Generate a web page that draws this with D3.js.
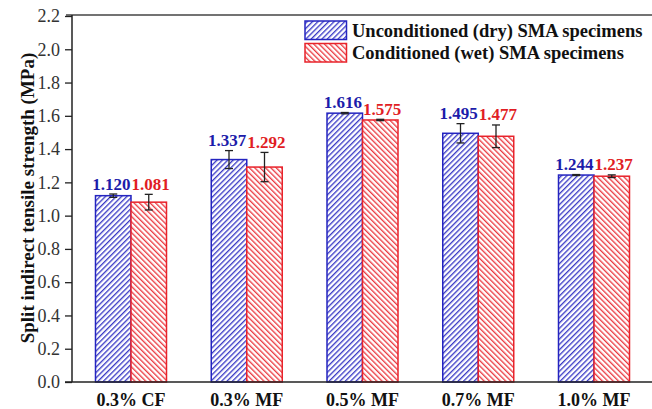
<!DOCTYPE html>
<html><head><meta charset="utf-8">
<script src="https://cdn.jsdelivr.net/npm/d3@7"></script>
<style>body{margin:0;background:#fff;} svg{display:block;}</style>
</head><body>
<svg id="c" width="652" height="409"></svg>
<script>
const categories = ["0.3% CF","0.3% MF","0.5% MF","0.7% MF","1.0% MF"];
const seriesNames = ["Unconditioned (dry) SMA specimens","Conditioned (wet) SMA specimens"];
const dryValues = [1.120,1.337,1.616,1.495,1.244];
const wetValues = [1.081,1.292,1.575,1.477,1.237];
const dryErrors = [0.010,0.054,0.004,0.058,0.003];
const wetErrors = [0.047,0.088,0.004,0.068,0.008];
const yTicks = [0.0,0.2,0.4,0.6,0.8,1.0,1.2,1.4,1.6,1.8,2.0,2.2];

const svg = d3.select("#c");
const mLeft=72, mTop=16, mBottom=382, mRight=652;
const blue="#2424c0", red="#e8232b";
const blueTxt="#1c1caa", redTxt="#e11d24";
const serif="'Liberation Serif','Times New Roman',serif";

const defs=svg.append("defs");
function pat(id,color,angle){
  const s=3.8;
  const p=defs.append("pattern").attr("id",id).attr("patternUnits","userSpaceOnUse")
    .attr("width",s).attr("height",s).attr("patternTransform",`rotate(${angle})`);
  p.append("rect").attr("width",s).attr("height",s).attr("fill","#fff");
  p.append("line").attr("x1",0.7).attr("y1",0).attr("x2",0.7).attr("y2",s)
    .attr("stroke",color).attr("stroke-width",1.2);
}
pat("pb",blue,45);
pat("pr",red,-45);

const y=d3.scaleLinear().domain([0,2.2]).range([mBottom,mTop]);
const x=d3.scalePoint().domain(categories).range([131,594]);
const bw=35.5;

svg.append("line").attr("x1",mLeft-6).attr("x2",mRight).attr("y1",mTop-1).attr("y2",mTop-1)
  .attr("stroke","#444").attr("stroke-width",1.5);

const yAxis=d3.axisLeft(y).tickValues(yTicks).tickFormat(d3.format(".1f")).tickSize(7).tickPadding(5);
const ga=svg.append("g").attr("transform",`translate(${mLeft},0)`).call(yAxis);
ga.select(".domain").attr("stroke","#222").attr("stroke-width",1.5).attr("d",`M0,${mTop-1}V${mBottom}`);
ga.selectAll(".tick line").attr("stroke","#222").attr("stroke-width",1.3);
ga.selectAll(".tick text").attr("font-family",serif).attr("font-size",18).attr("fill","#333");

const data=categories.map((c,i)=>({c,vals:[
  {s:0,v:dryValues[i],e:dryErrors[i]},{s:1,v:wetValues[i],e:wetErrors[i]}]}));

const g=svg.append("g");
data.forEach(d=>{
  d.vals.forEach(b=>{
    const x0=x(d.c)+(b.s===0?-bw:0);
    g.append("rect").attr("x",x0).attr("y",y(b.v)).attr("width",bw).attr("height",y(0)-y(b.v))
      .attr("fill",b.s===0?"url(#pb)":"url(#pr)").attr("stroke",b.s===0?blue:red).attr("stroke-width",1.5);
  });
});
data.forEach(d=>{
  d.vals.forEach(b=>{
    const cx=x(d.c)+(b.s===0?-bw/2:bw/2);
    const eg=g.append("g").attr("stroke","#222").attr("stroke-width",1.3);
    eg.append("line").attr("x1",cx).attr("x2",cx).attr("y1",y(b.v+b.e)).attr("y2",y(b.v-b.e));
    eg.append("line").attr("x1",cx-4).attr("x2",cx+4).attr("y1",y(b.v+b.e)).attr("y2",y(b.v+b.e));
    eg.append("line").attr("x1",cx-4).attr("x2",cx+4).attr("y1",y(b.v-b.e)).attr("y2",y(b.v-b.e));
    g.append("text").attr("x",cx+(b.s===0?-1.8:1.8)).attr("y",y(b.v+b.e)-4.5).attr("text-anchor","middle")
      .attr("font-family",serif).attr("font-weight","bold").attr("font-size",17)
      .attr("fill",b.s===0?blueTxt:redTxt).text(d3.format(".3f")(b.v));
  });
});

svg.append("line").attr("x1",mLeft-7).attr("x2",mRight).attr("y1",mBottom).attr("y2",mBottom)
  .attr("stroke","#222").attr("stroke-width",1.5);
svg.append("g").selectAll("text").data(categories).join("text")
  .attr("x",d=>x(d)).attr("y",405.5).attr("text-anchor","middle")
  .attr("font-family",serif).attr("font-weight","bold").attr("font-size",18).attr("fill","#111").text(d=>d);

svg.append("text").attr("transform",`translate(27,198) rotate(-90)`)
  .attr("text-anchor","middle").attr("dominant-baseline","central").attr("font-family",serif).attr("font-weight","bold")
  .attr("font-size",19).attr("fill","#111").text("Split indirect tensile strength (MPa)");

const lg=svg.append("g");
seriesNames.forEach((n,i)=>{
  const yy=21+i*22.5;
  lg.append("rect").attr("x",305).attr("y",yy).attr("width",41.5).attr("height",18.5)
    .attr("fill",i===0?"url(#pb)":"url(#pr)").attr("stroke",i===0?blue:red).attr("stroke-width",1.5);
  lg.append("text").attr("x",352).attr("y",yy+15.5).attr("font-family",serif).attr("font-weight","bold")
    .attr("font-size",18.5).attr("fill","#111").text(n);
});
</script>
</body></html>
